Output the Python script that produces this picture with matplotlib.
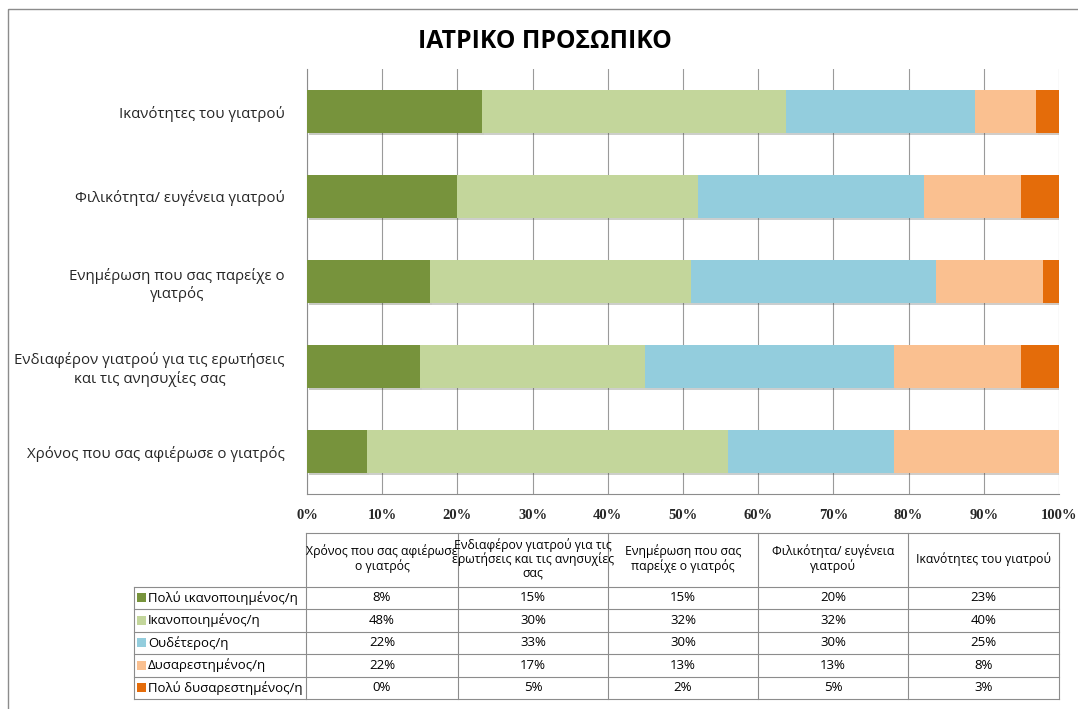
import numpy as np
import matplotlib
matplotlib.use("Agg")
from matplotlib import pyplot as plt
from matplotlib import patheffects as pe
from matplotlib.patches import Rectangle

plt.rcParams["font.family"] = ["Open Sans", "DejaVu Sans"]

# bottom-to-top order, same order as the table columns
categories = [
    "Χρόνος που σας αφιέρωσε ο γιατρός",
    "Ενδιαφέρον γιατρού για τις ερωτήσεις\nκαι τις ανησυχίες σας",
    "Ενημέρωση που σας παρείχε ο\nγιατρός",
    "Φιλικότητα/ ευγένεια γιατρού",
    "Ικανότητες του γιατρού",
]
table_headers = [
    "Χρόνος που σας αφιέρωσε\nο γιατρός",
    "Ενδιαφέρον γιατρού για τις\nερωτήσεις και τις ανησυχίες\nσας",
    "Ενημέρωση που σας\nπαρείχε ο γιατρός",
    "Φιλικότητα/ ευγένεια\nγιατρού",
    "Ικανότητες του γιατρού",
]
series_names = [
    "Πολύ ικανοποιημένος/η",
    "Ικανοποιημένος/η",
    "Ουδέτερος/η",
    "Δυσαρεστημένος/η",
    "Πολύ δυσαρεστημένος/η",
]
very_satisfied = [8, 15, 15, 20, 23]
satisfied = [48, 30, 32, 32, 40]
neutral = [22, 33, 30, 30, 25]
dissatisfied = [22, 17, 13, 13, 8]
very_dissatisfied = [0, 5, 2, 5, 3]
colors = ["#77933C", "#C3D69B", "#93CDDD", "#FAC090", "#E46C0A"]
x_ticks = [0, 10, 20, 30, 40, 50, 60, 70, 80, 90, 100]

series = np.array([very_satisfied, satisfied, neutral, dissatisfied,
                   very_dissatisfied], dtype=float)
# 100% stacked: each category scaled to its own total
shares = series / series.sum(axis=0) * 100

W, H = 1078, 709
fig = plt.figure(figsize=(W / 100, H / 100), dpi=100)
fig.patch.set_facecolor("white")


def px_axes(x0, y0, x1, y1):
    return fig.add_axes([x0 / W, 1 - y1 / H, (x1 - x0) / W, (y1 - y0) / H])


# full-figure overlay in pixel units for border, title and table
over = fig.add_axes([0, 0, 1, 1], zorder=-1)
over.set_xlim(0, W)
over.set_ylim(H, 0)
over.axis("off")
over.add_patch(Rectangle((8, 9), W + 20, H + 20, fill=False,
                         edgecolor="#8c8c8c", lw=1.0))
over.text(545, 41, "ΙΑΤΡΙΚΟ ΠΡΟΣΩΠΙΚΟ", ha="center", va="center",
          fontsize=17.8, fontweight="bold", color="black")

ax = px_axes(307, 69, 1059, 494)
ypos = np.arange(len(categories))
left = np.zeros(len(categories))
shadow = [pe.SimplePatchShadow(offset=(1.5, -1.5), alpha=0.25), pe.Normal()]
for vals, col, name in zip(shares, colors, series_names):
    bars = ax.barh(ypos, vals, left=left, height=0.5, color=col,
                   label=name, zorder=3)
    for b in bars:
        b.set_path_effects(shadow)
    left += vals

ax.set_xlim(0, 100)
ax.set_ylim(-0.5, len(categories) - 0.5)
ax.set_xticks(x_ticks)
ax.set_xticklabels([f"{t}%" for t in x_ticks], family="Liberation Serif",
                   fontweight="bold", fontsize=10.5, color="#262626")
ax.set_yticks(ypos)
ax.set_yticklabels(categories, fontsize=10.8, color="#262626",
                   multialignment="center")
ax.tick_params(axis="x", length=0, pad=11)
ax.tick_params(axis="y", length=0, pad=16)
ax.grid(axis="x", color="#9a9a9a", lw=0.8, zorder=0)
for side in ["top", "right"]:
    ax.spines[side].set_visible(False)
for side in ["left", "bottom"]:
    ax.spines[side].set_color("#8c8c8c")
    ax.spines[side].set_linewidth(0.8)

# data table under the chart
col_edges = [134, 306, 458, 608, 758, 908, 1059]
row_edges = [533, 586.5, 609, 631.5, 654, 676.5, 699]
line_kw = dict(color="#8c8c8c", lw=0.8)
over.plot([col_edges[1], col_edges[-1]], [row_edges[0]] * 2, **line_kw)
for y in row_edges[1:]:
    over.plot([col_edges[0], col_edges[-1]], [y, y], **line_kw)
over.plot([col_edges[0]] * 2, [row_edges[1], row_edges[-1]], **line_kw)
for x in col_edges[1:]:
    over.plot([x, x], [row_edges[0], row_edges[-1]], **line_kw)

for j, head in enumerate(table_headers):
    xc = (col_edges[j + 1] + col_edges[j + 2]) / 2
    over.text(xc, (row_edges[0] + row_edges[1]) / 2 - 1, head,
              ha="center", va="center", fontsize=8.8, linespacing=1.05,
              color="black")

for i, (name, col) in enumerate(zip(series_names, colors)):
    yc = (row_edges[i + 1] + row_edges[i + 2]) / 2
    over.add_patch(Rectangle((137, yc - 4.5), 9, 9, color=col, lw=0))
    over.text(148, yc, name, ha="left", va="center", fontsize=9.5,
              color="black")
    for j in range(len(categories)):
        xc = (col_edges[j + 1] + col_edges[j + 2]) / 2
        over.text(xc, yc, f"{series[i, j]:.0f}%", ha="center", va="center",
                  fontsize=9.5, color="black")

fig.savefig("out.png", dpi=100)
